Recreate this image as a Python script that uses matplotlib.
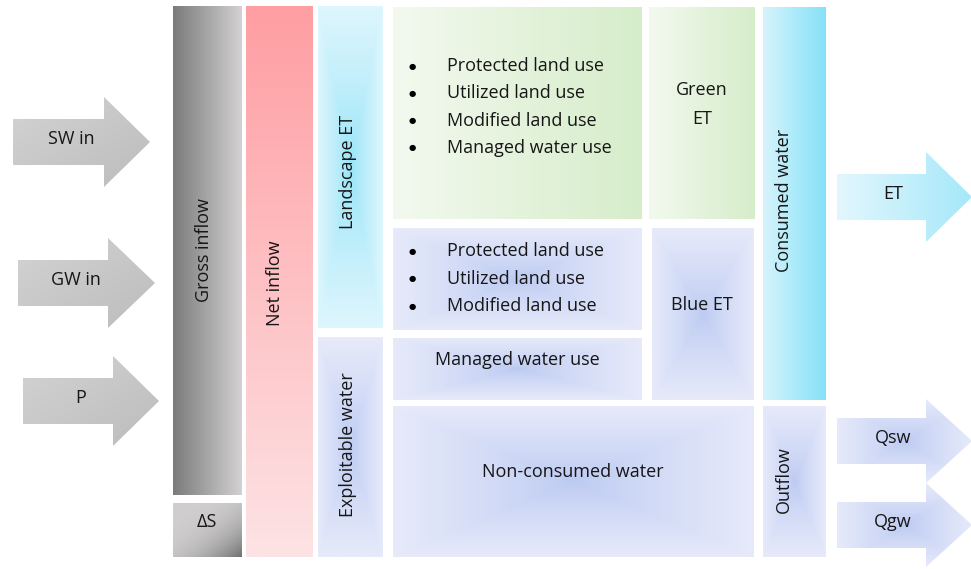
import numpy as np
import matplotlib.pyplot as plt
from matplotlib.patches import Polygon
from matplotlib.colors import to_rgb

plt.rcParams['font.family'] = ['Open Sans', 'DejaVu Sans']

# labels of the diagram
inflow_labels = ["SW in", "GW in", "P"]
outflow_labels = ["ET", "Qsw", "Qgw"]
column_labels = ["Gross inflow", "\u0394S", "Net inflow", "Landscape ET",
                 "Exploitable water", "Consumed water", "Outflow"]
green_uses = ["Protected land use", "Utilized land use",
              "Modified land use", "Managed water use"]
blue_uses = ["Protected land use", "Utilized land use", "Modified land use"]
green_et = ["Green", "ET"]
blue_et = "Blue ET"
managed = "Managed water use"
non_consumed = "Non-consumed water"

TXT = '#161616'
FS = 13

fig = plt.figure(figsize=(9.71, 5.69), dpi=100)
ax = fig.add_axes([0, 0, 1, 1])
ax.set_xlim(0, 971)
ax.set_ylim(569, 0)
ax.axis('off')


def grad(kind, c1, c2, n=200, p=1.0):
    a = np.array(to_rgb(c1))
    b = np.array(to_rgb(c2))
    u, v = np.meshgrid(np.linspace(0, 1, n), np.linspace(0, 1, n))
    if kind == 'h':
        t = u
    elif kind == 'v':
        t = v
    elif kind == 'd':
        t = (u + v) / 2
    else:  # from centre, rectangular
        t = np.maximum(np.abs(2 * u - 1), np.abs(2 * v - 1))
    t = t ** p
    return a + (b - a) * t[..., None]


def box(x0, y0, x1, y1, kind, c1, c2, p=1.0, clip=None):
    im = ax.imshow(grad(kind, c1, c2, p=p), extent=(x0, x1, y1, y0),
                   origin='upper', interpolation='bilinear', aspect='auto', zorder=1)
    if clip is not None:
        im.set_clip_path(clip)


def arrow(x0, xh, xt, c, bh, hh, kind, c1, c2, p=1.0):
    pts = [(x0, c - bh), (xh, c - bh), (xh, c - hh), (xt, c),
           (xh, c + hh), (xh, c + bh), (x0, c + bh)]
    poly = Polygon(pts, closed=True, facecolor='none', edgecolor='none')
    ax.add_patch(poly)
    box(x0, c - hh, xt, c + hh, kind, c1, c2, p=p, clip=poly)


def label(x, y, s, rot=0, ha='center'):
    ax.text(x, y, s, rotation=rot, ha=ha, va='center', fontsize=FS, color=TXT, zorder=3)


def bullets(items, y0, dy):
    for i, s in enumerate(items):
        y = y0 + i * dy
        ax.text(412, y, '\u25cf', ha='center', va='center', fontsize=6,
                color='black', family='DejaVu Sans', zorder=3)
        label(447, y, s, ha='left')


LAV_C, LAV_E = '#bccaf2', '#e6eafa'

# left arrows
left_y = [142, 283, 401]
left_x = [(13, 104, 150), (18, 108, 155), (23, 113, 159)]
for (x0, xh, xt), c, s in zip(left_x, left_y, inflow_labels):
    arrow(x0, xh, xt, c, 23, 45, 'd', '#d3d3d3', '#bcbcbc')
    label((x0 + xh) / 2 + 13, c - 3, s)

# columns
box(173, 6, 242, 495, 'h', '#7b7b7b', '#d3d1d1')
label(204, 250, column_labels[0], rot=90)
box(173, 503, 242, 557, 'd', '#d0cece', '#6f6f6f', p=3)
label(207, 522, column_labels[1])
box(246, 6, 313, 557, 'v', '#ff9ea2', '#fde3e5')
label(275, 283, column_labels[2], rot=90)
box(318, 6, 383, 328, 'c', '#95e4f8', '#def6fd', p=0.8)
label(348, 172, column_labels[3], rot=90)
box(318, 337, 383, 557, 'c', LAV_C, LAV_E, p=0.8)
label(348, 445, column_labels[4], rot=90)

# green boxes
box(393, 7, 642, 219, 'h', '#f3f9ef', '#d6edca')
bullets(green_uses, 66, 27.3)
box(649, 7, 755, 219, 'h', '#f3f9ef', '#d6edca')
label(702, 90, green_et[0])
label(702, 119, green_et[1])

# blue boxes
box(393, 228, 642, 330, 'c', LAV_C, LAV_E, p=0.8)
bullets(blue_uses, 251, 27.5)
box(393, 338, 642, 400, 'c', LAV_C, LAV_E, p=0.8)
label(517, 360, managed)
box(652, 228, 754, 400, 'c', LAV_C, LAV_E, p=0.8)
label(702, 305, blue_et)
box(393, 406, 754, 557, 'c', LAV_C, LAV_E, p=0.8)
label(573, 472, non_consumed)

# consumed / outflow
box(763, 7, 826, 400, 'h', '#d6f4fc', '#85e1f8')
label(784, 200, column_labels[5], rot=90)
box(763, 406, 826, 557, 'c', LAV_C, LAV_E, p=0.8)
label(784, 480, column_labels[6], rot=90)

# right arrows
right_y = [197, 441, 525]
for c, s in zip(right_y, outflow_labels):
    if s == 'ET':
        arrow(837, 926, 972, c, 23, 45, 'h', '#e2f7fd', '#a5e8f9')
    else:
        arrow(837, 926, 972, c, 23, 42, 'c', LAV_C, LAV_E, p=0.8)
    label(893, c - 3, s)

fig.savefig('out.png', dpi=100)
